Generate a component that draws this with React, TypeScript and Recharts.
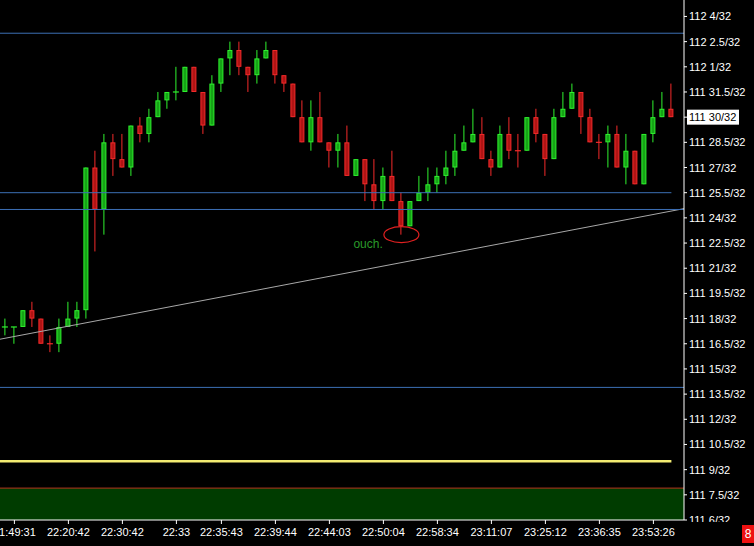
import React from 'react';
import { ComposedChart, Bar, XAxis, YAxis, ReferenceLine, ReferenceArea, ReferenceDot } from 'recharts';

// Prices expressed in 32nds above 111 (e.g. 30 => "111 30/32", 35 => "112 3/32")
const opens = [17.5, 17.5, 17.5, 18.5, 18, 16.5, 16.5, 17.5, 18, 18.5, 27, 24.5, 28.5, 27.5, 27, 29.5, 29, 30, 31, 31.5, 31.5, 33, 31.5, 29.5, 32, 33.5, 34, 33, 32.5, 33.5, 34, 32.5, 32, 30, 28.5, 30, 28.5, 28, 28.5, 26.5, 27.5, 26, 25, 26.5, 25, 23.5, 25, 25.5, 26, 26.5, 27, 28, 28.5, 29, 27.5, 27, 29, 28, 28, 30, 29, 27.5, 30, 30.5, 31.5, 30, 28.5, 28.5, 29, 27, 28, 26, 29, 30, 30.5];
const highs = [18, 17.5, 18.5, 19, 18, 17, 18, 19, 19, 27, 28, 29, 29, 29, 29.5, 30, 30.5, 31.5, 31.5, 33, 33, 33, 31.5, 32.5, 33.5, 34.5, 34.5, 33, 34, 34.5, 34, 32.5, 32, 31, 31, 31.5, 28.5, 29, 29.5, 27.5, 27.5, 27.5, 27, 28, 25.5, 25, 26.5, 27, 27, 28, 29, 29.5, 30.5, 30, 28, 29.5, 30, 29, 30, 30.5, 29, 30.5, 31.5, 32, 31.5, 30.5, 29, 29.5, 29.5, 29, 28, 29, 31, 31.5, 32];
const lows = [17, 16.5, 17.5, 17.5, 16.5, 16, 16, 17.5, 17.5, 18, 22, 23, 26.5, 27, 26.5, 28.5, 28.5, 30, 30.5, 31, 31.5, 31.5, 29, 29.5, 31.5, 32.5, 32.5, 31.5, 32, 33.5, 32, 31.5, 30, 28.5, 28, 28.5, 27, 27, 26.5, 26.5, 25, 24.5, 24.5, 25, 23, 23.5, 25, 25, 25.5, 26, 26.5, 28, 28.5, 27.5, 26.5, 27, 27.5, 27, 28, 28.5, 26.5, 27.5, 30, 30.5, 29, 28.5, 27.5, 27, 27, 26, 26, 26, 28.5, 30, 30];
const closes = [17.5, 17.5, 18.5, 18, 16.5, 16.5, 17.5, 18, 18.5, 27, 24.5, 28.5, 27.5, 27, 29.5, 29, 30, 31, 31.5, 31.5, 33, 31.5, 29.5, 32, 33.5, 34, 33, 32.5, 33.5, 34, 32.5, 32, 30, 28.5, 30, 28.5, 28, 28.5, 26.5, 27.5, 26, 25, 26.5, 25, 23.5, 25, 25.5, 26, 26.5, 27, 28, 28.5, 29, 27.5, 27, 29, 28, 28, 30, 29, 27.5, 30, 30.5, 31.5, 30, 28.5, 28.5, 29, 27, 28, 26, 29, 30, 30.5, 30];

const xTickIndex = [1, 7, 13, 19, 24, 30, 36, 42, 48, 54, 60, 66, 72];
const xTickLabels = ['21:49:31', '22:20:42', '22:30:42', '22:33', '22:35:43', '22:39:44', '22:44:03', '22:50:04', '22:58:34', '23:11:07', '23:25:12', '23:36:35', '23:53:26'];

const yTickValues = [6, 7.5, 9, 10.5, 12, 13.5, 15, 16.5, 18, 19.5, 21, 22.5, 24, 25.5, 27, 28.5, 30, 31.5, 33, 34.5, 36];
const yTickLabels = ['111 6/32', '111 7.5/32', '111 9/32', '111 10.5/32', '111 12/32', '111 13.5/32', '111 15/32', '111 16.5/32', '111 18/32', '111 19.5/32', '111 21/32', '111 22.5/32', '111 24/32', '111 25.5/32', '111 27/32', '111 28.5/32', '111 30/32', '111 31.5/32', '112 1/32', '112 2.5/32', '112 4/32'];

const lastPrice = 30;
const xDomain = [-0.6, 75.4];
const yDomain = [6, 36.98];

const blueFullLevels = [35, 24.5, 13.9];
const blueShortLevels = [25.5];
const yellowLevel = 9.5;
const redLevel = 7.9;
const trendStart = { x: -0.6, y: 16.77 };
const trendEnd = { x: 75.4, y: 24.55 };
const ouchNote = { x: 40.3, y: 22.4, text: 'ouch.' };
const circled = { x: 44, y: 23 };

const FONT = '"Liberation Sans", Arial, sans-serif';

let prevUp = true;
const data = opens.map((o, i) => {
  const c = closes[i];
  const up = c > o ? true : c < o ? false : prevUp;
  prevUp = up;
  return { i, o, h: highs[i], l: lows[i], c, up, range: [lows[i], highs[i]] };
});

const Candle = (props: any) => {
  const { x, y, width, height, payload } = props;
  if (x == null || y == null) return null;
  const cx = x + width / 2;
  const top = Math.min(y, y + height);
  const h = Math.abs(height);
  const span = payload.h - payload.l;
  const py = (v: number) => (span > 0 ? top + ((payload.h - v) / span) * h : top);
  const stroke = payload.up ? '#2ef22e' : '#f42a2a';
  const fill = payload.up ? '#16a316' : '#b01414';
  const bt = py(Math.max(payload.o, payload.c));
  const bb = py(Math.min(payload.o, payload.c));
  return (
    <g>
      <line x1={cx} x2={cx} y1={py(payload.h)} y2={py(payload.l)} stroke={stroke} strokeWidth={1} />
      {payload.o === payload.c ? (
        <line x1={cx - 3} x2={cx + 3} y1={bt} y2={bt} stroke={stroke} strokeWidth={1.2} />
      ) : (
        <rect x={cx - 2} y={bt + 0.5} width={4} height={Math.max(bb - bt - 1, 0.5)} fill={fill} stroke={stroke} strokeWidth={1} />
      )}
    </g>
  );
};

const XTick = (props: any) => {
  const { x, y, payload } = props;
  const k = xTickIndex.indexOf(payload.value);
  return (
    <text x={x} y={y} dy="0.71em" textAnchor="middle" fill="#ffffff" fontSize={11} fontFamily={FONT}>
      {k >= 0 ? xTickLabels[k] : ''}
    </text>
  );
};

const YTick = (props: any) => {
  const { x, y, payload } = props;
  const k = yTickValues.indexOf(payload.value);
  const label = k >= 0 ? yTickLabels[k] : '';
  const hl = payload.value === lastPrice;
  return (
    <g>
      {hl && <rect x={x - 2} y={y - 7.5} width={52} height={15} fill="#ffffff" />}
      <text x={x} y={y} dy={4} textAnchor="start" fill={hl ? '#000000' : '#ffffff'} fontSize={11} fontFamily={FONT}>
        {label}
      </text>
    </g>
  );
};

export default function App() {
  return (
    <div style={{ position: 'absolute', left: 0, top: 0, width: 754, height: 546, background: '#000', overflow: 'hidden' }}>
      <ComposedChart width={754} height={546} data={data} margin={{ top: 0, right: 0, bottom: 0, left: 0 }}>
        <ReferenceArea y1={yDomain[0]} y2={redLevel} fill="#003c00" fillOpacity={1} stroke="none" ifOverflow="visible" />
        <XAxis
          dataKey="i"
          type="number"
          domain={xDomain}
          allowDataOverflow
          ticks={xTickIndex}
          interval={0}
          height={26}
          tickSize={4}
          tickMargin={4}
          axisLine={{ stroke: '#ffffff' }}
          tickLine={{ stroke: '#ffffff' }}
          tick={<XTick />}
        />
        <YAxis
          orientation="right"
          type="number"
          domain={yDomain}
          allowDataOverflow
          ticks={yTickValues}
          interval={0}
          width={70}
          tickSize={3}
          tickMargin={2}
          axisLine={{ stroke: '#ffffff' }}
          tickLine={{ stroke: '#ffffff' }}
          tick={<YTick />}
        />
        <ReferenceLine
          segment={[trendStart, trendEnd]}
          stroke="#a8a8a8"
          strokeWidth={1}
        />
        <Bar dataKey="range" shape={Candle} barSize={6} isAnimationActive={false} />
        {blueFullLevels.map((v) => (
          <ReferenceLine key={'b' + v} y={v} stroke="#3c6fb4" strokeWidth={1} />
        ))}
        {blueShortLevels.map((v) => (
          <ReferenceLine key={'s' + v} segment={[{ x: xDomain[0], y: v }, { x: 74, y: v }]} stroke="#3c6fb4" strokeWidth={1} />
        ))}
        <ReferenceLine segment={[{ x: xDomain[0], y: yellowLevel }, { x: 74, y: yellowLevel }]} stroke="#f3ec72" strokeWidth={2.5} />
        <ReferenceLine y={redLevel} stroke="#b4321e" strokeWidth={1} />
        <ReferenceDot
          x={circled.x}
          y={circled.y}
          r={1}
          shape={(p: any) => <ellipse cx={p.cx} cy={p.cy} rx={17.5} ry={8} fill="none" stroke="#e02020" strokeWidth={1.2} />}
        />
        <ReferenceDot
          x={ouchNote.x}
          y={ouchNote.y}
          r={1}
          shape={(p: any) => (
            <text x={p.cx} y={p.cy + 3.5} textAnchor="middle" fill="#2a9a2a" fontSize={12} fontFamily={FONT}>
              {ouchNote.text}
            </text>
          )}
        />
      </ComposedChart>
      <div style={{ position: 'absolute', left: 685, top: 522, width: 69, height: 24, background: '#000' }} />
      <div
        style={{
          position: 'absolute',
          left: 742,
          top: 525,
          width: 12,
          height: 18,
          background: '#ee1111',
          color: '#fff',
          fontSize: 12,
          lineHeight: '18px',
          textAlign: 'center',
          fontFamily: FONT,
        }}
      >
        8
      </div>
    </div>
  );
}
